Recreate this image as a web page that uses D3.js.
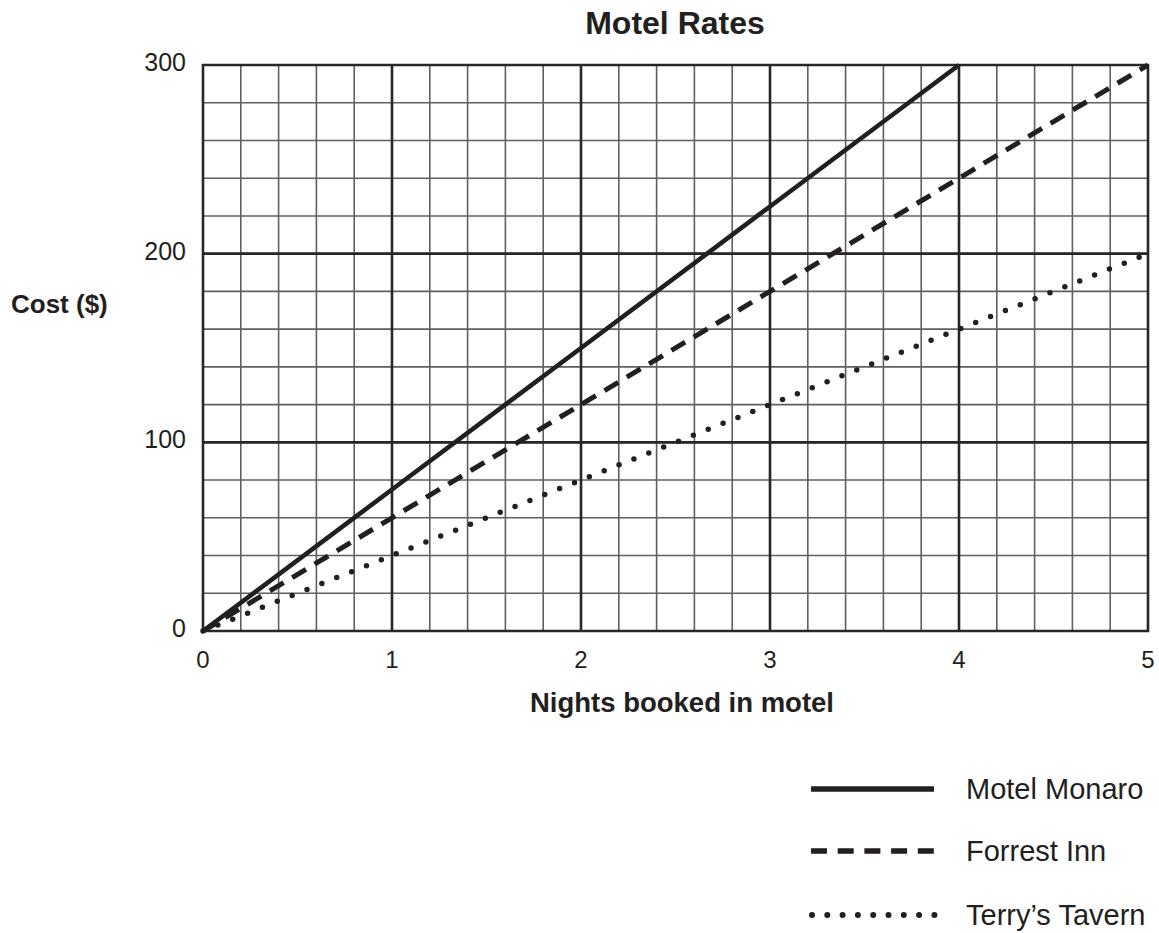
<!DOCTYPE html>
<html>
<head>
<meta charset="utf-8">
<script src="https://cdn.jsdelivr.net/npm/d3@7"></script>
<style>
body { margin: 0; background: #fff; }
text { font-family: "Liberation Sans", Arial, sans-serif; fill: #231f20; }
</style>
</head>
<body>
<svg id="chart" width="1159" height="933"></svg>
<script>
// data
var nights = [0, 1, 2, 3, 4, 5];
var monaro = [0, 75, 150, 225, 300];
var forrest = [0, 60, 120, 180, 240, 300];
var terry = [0, 40, 80, 120, 160, 200];
var names = ["Motel Monaro", "Forrest Inn", "Terry\u2019s Tavern"];
var xTicks = [0, 1, 2, 3, 4, 5];
var yTicks = [0, 100, 200, 300];

var svg = d3.select("#chart");
var pLeft = 203, pRight = 1148, pTop = 65, pBottom = 631;

var x = d3.scaleLinear().domain([0, 5]).range([pLeft, pRight]);
var y = d3.scaleLinear().domain([0, 300]).range([pBottom, pTop]);

var g = svg.append("g");

// minor grid
var minorX = d3.range(0, 5.01, 0.2), minorY = d3.range(0, 300.1, 20);
g.selectAll(".vminor").data(minorX).enter().append("line")
    .attr("x1", d => x(d)).attr("x2", d => x(d))
    .attr("y1", pTop).attr("y2", pBottom)
    .attr("stroke", "#5f5f5f").attr("stroke-width", 1.6);
g.selectAll(".hminor").data(minorY).enter().append("line")
    .attr("y1", d => y(d)).attr("y2", d => y(d))
    .attr("x1", pLeft).attr("x2", pRight)
    .attr("stroke", "#5f5f5f").attr("stroke-width", 1.6);

// major grid
g.selectAll(".vmajor").data(xTicks).enter().append("line")
    .attr("x1", d => x(d)).attr("x2", d => x(d))
    .attr("y1", pTop - 1).attr("y2", pBottom + 1)
    .attr("stroke", "#2a2627").attr("stroke-width", 2.6);
g.selectAll(".hmajor").data(yTicks).enter().append("line")
    .attr("y1", d => y(d)).attr("y2", d => y(d))
    .attr("x1", pLeft - 1).attr("x2", pRight + 1)
    .attr("stroke", "#2a2627").attr("stroke-width", 2.6);

// tick labels
g.selectAll(".xt").data(xTicks).enter().append("text")
    .attr("x", d => x(d)).attr("y", 668)
    .attr("text-anchor", "middle").attr("font-size", 24)
    .text(d => d);
g.selectAll(".yt").data(yTicks).enter().append("text")
    .attr("x", 186).attr("y", d => y(d) + 6)
    .attr("text-anchor", "end").attr("font-size", 25)
    .text(d => d);

svg.append("text").attr("x", 675).attr("y", 34)
    .attr("text-anchor", "middle").attr("font-size", 32).attr("font-weight", "bold")
    .text("Motel Rates");
svg.append("text").attr("x", 682).attr("y", 712)
    .attr("text-anchor", "middle").attr("font-size", 27.5).attr("font-weight", "bold")
    .text("Nights booked in motel");
svg.append("text").attr("x", 11).attr("y", 313)
    .attr("font-size", 26).attr("font-weight", "bold")
    .text("Cost ($)");

// series lines
var series = [
    { vals: monaro, dash: null, cap: "butt", w: 4.6 },
    { vals: forrest, dash: "16,10", cap: "butt", w: 5 },
    { vals: terry, dash: "0,16", cap: "round", w: 5.5 }
];
var line = d3.line().x((d, i) => x(nights[i])).y(d => y(d));
series.forEach(function (s) {
    g.append("path").datum(s.vals)
        .attr("d", line)
        .attr("fill", "none")
        .attr("stroke", "#231f20")
        .attr("stroke-width", s.w)
        .attr("stroke-linecap", s.cap)
        .attr("stroke-dasharray", s.dash);
});

// legend
var legY = [789, 851, 915];
var legDash = [null, "16,10.7", "0,15.3"];
names.forEach(function (n, i) {
    svg.append("line")
        .attr("x1", i === 2 ? 812 : 811).attr("x2", i === 2 ? 935 : 934)
        .attr("y1", legY[i]).attr("y2", legY[i])
        .attr("stroke", "#231f20")
        .attr("stroke-width", i === 2 ? 6 : 5.3)
        .attr("stroke-linecap", i === 2 ? "round" : "butt")
        .attr("stroke-dasharray", legDash[i]);
    svg.append("text").attr("x", 966).attr("y", legY[i] + 10)
        .attr("font-size", 29).text(n);
});
</script>
</body>
</html>
